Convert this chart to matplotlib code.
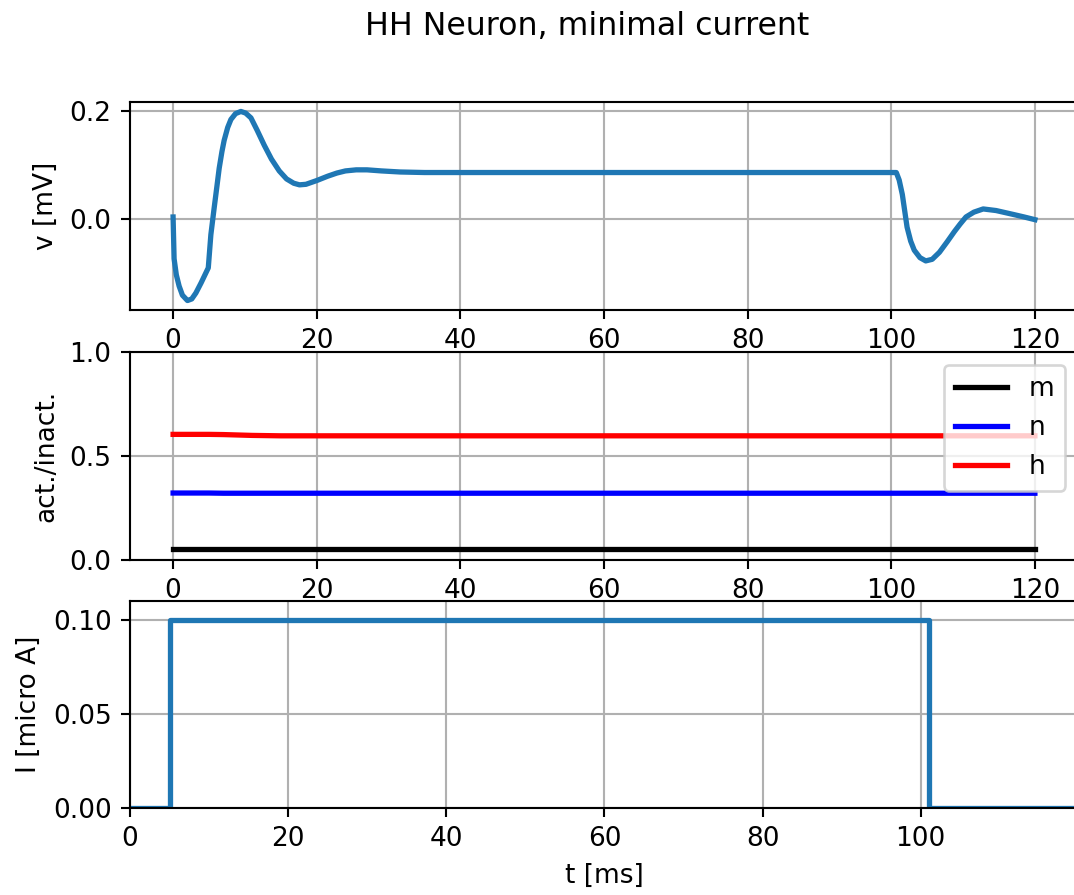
import matplotlib
matplotlib.use("Agg")
import matplotlib.pyplot as plt

# ---- data ----
t_v = [0, 0.14, 0.45, 0.84, 1.3, 2.0, 2.6, 3.17, 3.9, 4.9, 5.26, 5.72, 6.1, 6.42,
       6.8, 7.11, 7.6, 8.05, 8.7, 9.44, 10.1, 10.84, 11.7, 12.69, 13.7, 14.78, 15.8,
       16.8, 17.6, 18.5, 20, 21.5, 22.8, 24, 25.5, 27, 29, 31.6, 35, 40, 60, 80, 100,
       100.7, 101.1, 101.54, 102.2, 102.7, 103.2, 104.0, 104.8, 105.7, 106.7, 107.8,
       108.8, 109.6, 110.4, 111.5, 112.8, 114.6, 116.9, 118.5, 120]
v = [0.003, -0.075, -0.105, -0.126, -0.143, -0.153, -0.150, -0.139, -0.120, -0.092,
     -0.030, 0.020, 0.060, 0.094, 0.125, 0.146, 0.170, 0.185, 0.196, 0.200, 0.197,
     0.188, 0.165, 0.137, 0.111, 0.089, 0.074, 0.066, 0.063, 0.064, 0.071, 0.079,
     0.085, 0.089, 0.091, 0.091, 0.089, 0.087, 0.086, 0.086, 0.086, 0.086, 0.086,
     0.086, 0.072, 0.045, -0.016, -0.042, -0.059, -0.073, -0.079, -0.076, -0.063,
     -0.043, -0.024, -0.010, 0.003, 0.012, 0.018, 0.015, 0.008, 0.003, -0.002]

t_gate = [0, 5, 7, 9, 11, 13, 15, 20, 40, 60, 80, 100, 120]
m_vals = [0.055, 0.055, 0.055, 0.055, 0.055, 0.055, 0.055, 0.055, 0.055, 0.055, 0.055, 0.055, 0.055]
n_vals = [0.322, 0.322, 0.321, 0.321, 0.321, 0.321, 0.321, 0.321, 0.321, 0.321, 0.321, 0.321, 0.321]
h_vals = [0.604, 0.604, 0.603, 0.601, 0.599, 0.598, 0.597, 0.597, 0.597, 0.597, 0.597, 0.597, 0.597]

t_I = [0, 5, 5, 101, 101, 119.9]
I_vals = [0, 0, 0.1, 0.1, 0, 0]

W, H, DPI = 1074, 895, 190
fig = plt.figure(figsize=(W / DPI, H / DPI), dpi=DPI)

def box(top, bottom, left=130, right=1078):
    return [left / W, (H - bottom) / H, (right - left) / W, (bottom - top) / H]

ax1 = fig.add_axes(box(102, 310))
ax2 = fig.add_axes(box(352, 560))
ax3 = fig.add_axes(box(601, 808))

ax1.plot(t_v, v, lw=2, color="#1f77b4")
ax1.set_ylabel("v [mV]")
ax1.grid(True)

ax2.plot(t_gate, m_vals, "black", lw=2, label="m")
ax2.plot(t_gate, n_vals, "blue", lw=2, label="n")
ax2.plot(t_gate, h_vals, "red", lw=2, label="h")
ax2.set_ylim(0, 1)
ax2.set_ylabel("act./inact.")
ax2.legend(loc="upper right")
ax2.grid(True)

ax3.plot(t_I, I_vals, lw=2, color="#1f77b4")
ax3.set_xlim(0, 119.9)
ax3.set_ylim(0, 0.11)
ax3.set_xlabel("t [ms]")
ax3.set_ylabel("I [micro A]")
ax3.grid(True)

fig.suptitle("HH Neuron, minimal current", x=587 / W, y=0.988)

fig.savefig("out.png", dpi=DPI)
